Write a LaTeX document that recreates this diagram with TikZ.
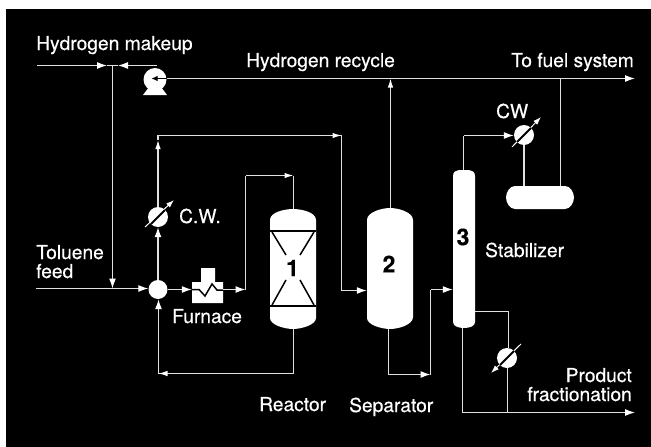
\documentclass[tikz,border=0pt]{standalone}
\usepackage{fontspec}
\setmainfont[FakeBold=0.35]{TeX Gyre Heros}
\newfontfamily\numfont[FakeBold=0.6]{TeX Gyre Heros}
\usetikzlibrary{arrows.meta}
\definecolor{ln}{gray}{0.88}
\tikzset{
  x=1pt,y=-1pt,
  pipe/.style={draw=ln,line width=1.2pt,line join=miter},
  flow/.style={pipe,-{Latex[length=10pt,width=7pt,color=white]}},
  flowsm/.style={pipe,-{Latex[length=9pt,width=5.5pt,color=white]}},
  txt/.style={text=white,inner sep=0pt,font=\fontsize{19.2}{21}\selectfont},
  num/.style={text=black,inner sep=0pt,font=\fontsize{23}{23}\selectfont\bfseries},
  ball/.style={circle,fill=white,inner sep=0pt,minimum size=#1},
  vbox/.style={rectangle,inner sep=0pt},
  cooldiag/.style={draw=white,line width=1pt,-{Latex[length=8pt,width=5.5pt,color=white]}},
  slash/.style={draw=black,line width=1.5pt},
  vessel/.style={fill=white,draw=none},
}
\begin{document}
\begin{tikzpicture}
\useasboundingbox (0,0) rectangle (651,447);
\fill[black] (6,9) rectangle (651,447);

% --- equipment anchors
\node[ball=23pt] (pump) at (155,79.5) {};
\node[ball=19pt] (mixer) at (158,289.5) {};
\node[ball=20pt] (coolA) at (158,217) {};
\node[ball=20pt] (coolB) at (524,135) {};
\node[ball=20pt] (coolC) at (507,358) {};
\node[vbox,minimum width=46pt,minimum height=120pt] (reactor) at (293,269) {};
\node[vbox,minimum width=46pt,minimum height=121pt] (separator) at (390,268.5) {};
\node[vbox,minimum width=22pt,minimum height=158pt] (stab) at (464,249) {};
\node[vbox,minimum width=68pt,minimum height=23pt] (drum) at (540,197.5) {};
\node[vbox,minimum width=31pt,minimum height=21pt] (furnace) at (207.5,292.5) {};

% --- free ends and corners
\coordinate (h2in) at (37,65.5);
\coordinate (h2j) at (112.5,65.5);
\coordinate (pumptop) at (156.5,65.5);
\coordinate (fuel) at (635,78.5);
\coordinate (feed) at (36,288.5);
\coordinate (feedj) at (112.5,288.5);
\coordinate (sepj) at (390.5,78.5);
\coordinate (drumj) at (560.5,78.5);
\coordinate (prod) at (635,412.5);
\coordinate (prodj) at (507.5,412.5);

% --- vessels
\fill[vessel] (149,87) -- (161,87) -- (167,95) -- (143,95) -- cycle;
\fill[vessel] (270,318) -- (270,220) .. controls (270,212) and (285,209) .. (293,209)
   .. controls (301,209) and (316,212) .. (316,220) -- (316,318)
   .. controls (316,325) and (301,329) .. (293,329)
   .. controls (285,329) and (270,325) .. (270,318) -- cycle;
\fill[vessel] (367,318) -- (367,220) .. controls (367,212) and (382,208) .. (390,208)
   .. controls (398,208) and (413,212) .. (413,220) -- (413,317)
   .. controls (413,325) and (398,329) .. (390,329)
   .. controls (382,329) and (367,325) .. (367,318) -- cycle;
\fill[vessel] (453,176) .. controls (453,172) and (456,170) .. (459,170) -- (469,170)
   .. controls (472,170) and (475,172) .. (475,176) -- (475,322)
   .. controls (475,326) and (470,328) .. (464,328)
   .. controls (458,328) and (453,326) .. (453,322) -- cycle;
\fill[vessel] (515,186) -- (565,186) .. controls (570,186) and (574,192) .. (574,197.5)
   .. controls (574,203) and (570,209) .. (565,209) -- (515,209)
   .. controls (510,209) and (506,203) .. (506,197.5)
   .. controls (506,192) and (510,186) .. (515,186) -- cycle;
\fill[vessel] (192,282) -- (201,282) -- (201,268) -- (215,268) -- (215,282) -- (223,282) -- (223,303) -- (192,303) -- cycle;

% --- reactor internals
\draw[slash,line width=1.2pt] (270,231) -- (316,231);
\draw[slash,line width=1.2pt] (270,306) -- (316,306);
\draw[slash] (272,232) -- (286,255);
\draw[slash] (314,232) -- (300,255);
\draw[slash] (272,305) -- (286,280);
\draw[slash] (314,305) -- (300,280);

% --- furnace coil
\draw[slash] (192,289.5) -- (199,289.5) -- (205,296) -- (212,284) -- (217,290) -- (223,290);

% --- hydrogen lines
\draw[flow] (h2in) -- (107,65.5);
\draw[pipe] (107,65.5) -- (h2j);
\draw[flow] (pumptop) -- (118,65.5);
\draw[pipe] (118,65.5) -- (h2j);
\draw[flow] (h2j) -- (feedj);
\draw[pipe] (feed) -- (feedj);
\draw[flow] (feedj) -- (mixer.west |- feedj);
\draw[pipe] (166,78.5) -- (drumj);
\draw[flow] (drumj) -- (fuel);
\draw[flowsm] (separator.north -| sepj) -- (sepj);
\draw[pipe] (drum.north -| drumj) -- (drumj);

% --- mixer, cooler, reactor loop
\draw[flow] (mixer) -- (furnace.west |- mixer);
\draw[flow] (mixer.north) -- (coolA.south);
\coordinate (a1) at (158,135.5);
\coordinate (a2) at (341.5,135.5);
\coordinate (a3) at (341.5,290.5);
\draw[flowsm] (coolA.north) -- (158,140);
\draw[pipe] (158,140) -- (a1) -- (a2);
\draw[flowsm] (330,135.5) -- (a2);
\draw[pipe] (a2) -- (a3);
\draw[flow] (a3) -- (separator.west |- a3);
\coordinate (b1) at (245.5,289.5);
\coordinate (b2) at (245.5,175.5);
\coordinate (b3) at (293.5,175.5);
\draw[flow] (furnace.east |- b1) -- (b1);
\draw[pipe] (b1) -- (b2);
\draw[flowsm] (b2) -- (b3);
\draw[pipe] (b3) -- (reactor.north -| b3);
\coordinate (c1) at (293.5,373.5);
\coordinate (c2) at (158.5,373.5);
\draw[pipe] (reactor.south -| c1) -- (c1);
\draw[pipe] (c1) -- (c2);
\draw[flowsm] (172,373.5) -- (c2);
\draw[flow] (c2) -- (mixer.south -| c2);

% --- separator to stabilizer
\coordinate (d1) at (388.5,374.5);
\coordinate (d2) at (430.5,374.5);
\coordinate (d3) at (430.5,289.5);
\draw[pipe] (separator.south -| d1) -- (d1);
\draw[flow] (d1) -- (d2);
\draw[pipe] (d2) -- (d3);
\draw[flow] (d3) -- (stab.west |- d3);

% --- stabilizer overhead
\coordinate (e1) at (463.5,135.5);
\draw[pipe] (stab.north -| e1) -- (e1);
\draw[flow] (e1) -- (coolB.west |- e1);
\draw[pipe] (coolB.south) -- (524,186);

% --- stabilizer bottoms
\coordinate (f1) at (462.5,412.5);
\draw[pipe] (stab.south -| f1) -- (f1);
\draw[pipe] (f1) -- (prodj);
\draw[flow] (prodj) -- (prod);
\coordinate (g1) at (508.5,311.5);
\draw[pipe] (stab.east |- g1) -- (g1) -- (coolC.north -| g1);
\draw[pipe] (coolC.south -| prodj) -- (prodj);

% --- pump inner arrow (black)
\draw[draw=black,line width=0.9pt,-{Latex[length=6pt,width=5.5pt,color=black]}] (166.5,78.5) -- (151.5,78.5);

% --- cooler slashes
\coordinate (ca1) at (145,227);
\coordinate (ca2) at (174,200);
\coordinate (cb1) at (512,147);
\coordinate (cb2) at (541,117);
\coordinate (cc1) at (521,344);
\coordinate (cc2) at (491,373);
\draw[cooldiag] (ca1) -- (ca2);
\draw[cooldiag] (cb1) -- (cb2);
\draw[cooldiag] (cc1) -- (cc2);
\draw[draw=black,line width=2pt] (151,224) -- (165,210);
\draw[draw=black,line width=2pt] (517,142) -- (531,128);
\draw[draw=black,line width=2pt] (514,351) -- (500,365);

% --- labels
\node[txt,anchor=base west] (l1) at (36,50) {Hydrogen makeup};
\node[txt,anchor=base west] (l2) at (246,67) {Hydrogen recycle};
\node[txt,anchor=base east] (l3) at (634,67) {To fuel system};
\node[txt,anchor=base west] (l4) at (496,118) {CW};
\node[txt,anchor=base west] (l5) at (179,223) {C.W.};
\node[txt,anchor=base west] (l6) at (36,259) {Toluene};
\node[txt,anchor=base west] (l7) at (36,278) {feed};
\node[txt,anchor=base west] (l8) at (172,323) {Furnace};
\node[txt,anchor=base west] (l9) at (259,411) {Reactor};
\node[txt,anchor=base west] (l10) at (349,412) {Separator};
\node[txt,anchor=base west] (l11) at (485,257) {Stabilizer};
\node[txt,anchor=base east] (l12) at (632,382) {Product};
\node[txt,anchor=base east] (l13) at (632,401) {fractionation};
\node[num] (n1) at (292.5,268) {1};
\node[num] (n2) at (389,264) {2};
\node[num] (n3) at (463,237) {3};
\end{tikzpicture}
\end{document}
